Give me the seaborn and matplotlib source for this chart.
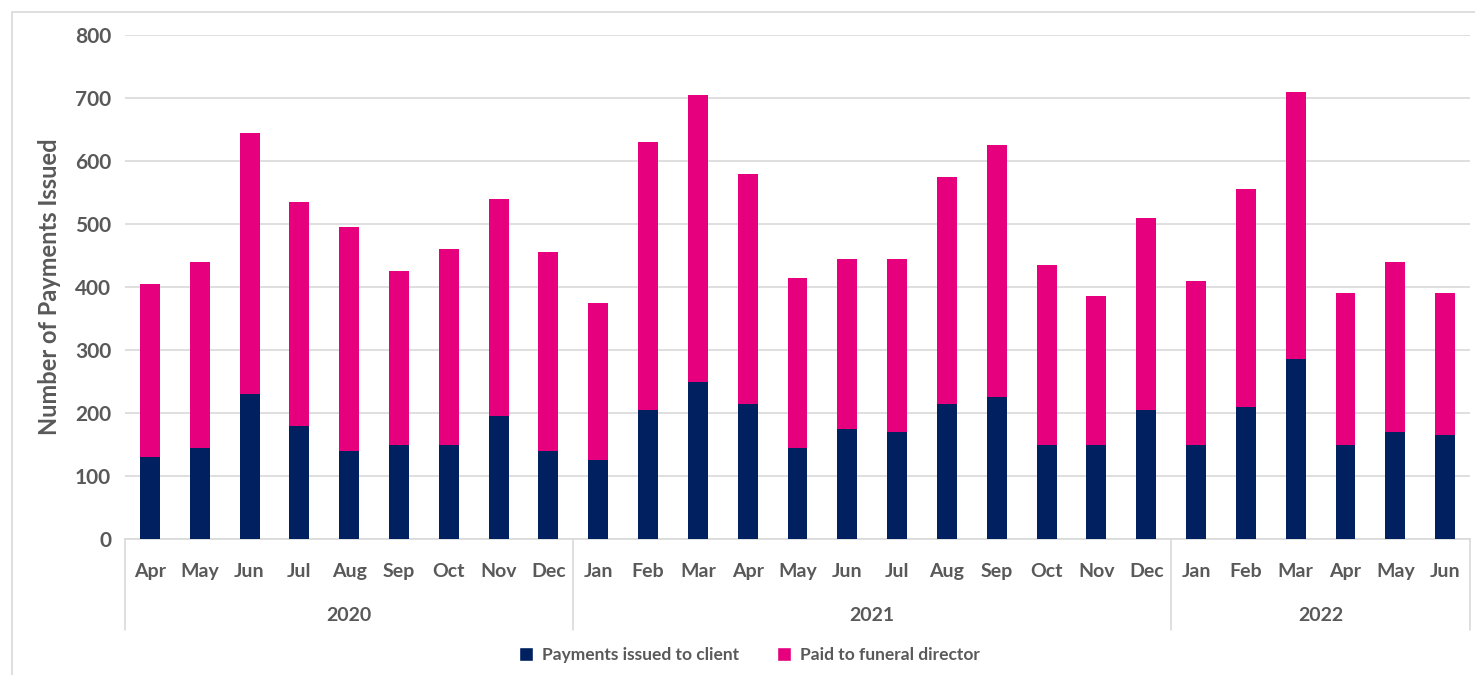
import matplotlib.pyplot as plt
import matplotlib.transforms as mtransforms
from matplotlib.patches import Patch, Rectangle
import seaborn as sns
import pandas as pd

months_2020 = ['Apr', 'May', 'Jun', 'Jul', 'Aug', 'Sep', 'Oct', 'Nov', 'Dec']
months_2021 = ['Jan', 'Feb', 'Mar', 'Apr', 'May', 'Jun', 'Jul', 'Aug', 'Sep', 'Oct', 'Nov', 'Dec']
months_2022 = ['Jan', 'Feb', 'Mar', 'Apr', 'May', 'Jun']
years = ['2020', '2021', '2022']

# payments issued to client (bottom segment)
client = [130, 145, 230, 180, 140, 150, 150, 195, 140,
          125, 205, 250, 215, 145, 175, 170, 215, 225, 150, 150, 205,
          150, 210, 285, 150, 170, 165]
# paid to funeral director (top segment)
funeral = [275, 295, 415, 355, 355, 275, 310, 345, 315,
           250, 425, 455, 365, 270, 270, 275, 360, 400, 285, 235, 305,
           260, 345, 425, 240, 270, 225]

NAVY = '#002060'
PINK = '#E6007E'
GREY = '#595959'
LIGHT = '#D9D9D9'

month_groups = [months_2020, months_2021, months_2022]
rows = []
for yr, ms in zip(years, month_groups):
    for m in ms:
        rows.append({'month': m, 'year': yr, 'key': f'{m} {yr}'})
df = pd.DataFrame(rows)
df['client'] = client
df['funeral'] = funeral
df['total'] = df['client'] + df['funeral']
order = list(df['key'])

sns.set_theme(style='white')
plt.rcParams['font.family'] = ['Lato', 'DejaVu Sans']

fig = plt.figure(figsize=(14.75, 6.75), dpi=100, facecolor='white')
ax = fig.add_axes([125 / 1475, 1 - 539 / 675, 1345 / 1475, 504 / 675])

sns.barplot(data=df, x='key', y='total', order=order, color=PINK,
            saturation=1, width=0.4, linewidth=0, ax=ax, zorder=3)
sns.barplot(data=df, x='key', y='client', order=order, color=NAVY,
            saturation=1, width=0.4, linewidth=0, ax=ax, zorder=4)

ax.set_ylim(0, 800)
ax.set_xlim(-0.5, len(order) - 0.5)
ax.set_yticks(range(0, 801, 100))
ax.yaxis.grid(True, color=LIGHT, linewidth=1.2, zorder=0)
ax.set_axisbelow(True)
for s in ['top', 'right', 'left']:
    ax.spines[s].set_visible(False)
ax.spines['bottom'].set_color(LIGHT)
ax.spines['bottom'].set_linewidth(1.2)

ax.set_xticks(range(len(order)))
ax.set_xticklabels(df['month'], fontsize=14, fontweight='bold', color=GREY)
ax.tick_params(axis='x', length=0, pad=17)
ax.tick_params(axis='y', length=0, pad=10, labelsize=15, labelcolor=GREY)
for lab in ax.get_yticklabels():
    lab.set_fontweight('bold')
ax.set_xlabel('')
ax.set_ylabel('Number of Payments Issued', fontsize=17, fontweight='bold',
              color=GREY, labelpad=10)

# year grouping below the month labels
trans = mtransforms.blended_transform_factory(ax.transData, ax.transAxes)
bounds = [-0.5]
for ms in month_groups:
    bounds.append(bounds[-1] + len(ms))
for b in bounds:
    ax.plot([b, b], [0, -0.18], transform=trans, color=LIGHT, lw=1.2, clip_on=False)
for yr, lo, hi in zip(years, bounds[:-1], bounds[1:]):
    ax.text((lo + hi) / 2, -0.152, yr, transform=trans, ha='center', va='center',
            fontsize=14, fontweight='bold', color=GREY)

handles = [Patch(facecolor=NAVY, label='Payments issued to client'),
           Patch(facecolor=PINK, label='Paid to funeral director')]
leg = fig.legend(handles=handles, loc='center', ncol=2, frameon=False,
                 bbox_to_anchor=(0.508, 1 - 655 / 675),
                 prop={'size': 12.5, 'weight': 'bold'},
                 handlelength=0.8, handleheight=0.8, columnspacing=2.2,
                 handletextpad=0.5)
for t in leg.get_texts():
    t.set_color(GREY)

fig.patches.append(Rectangle((12 / 1475, -0.01), 1.0, 1 - 12 / 675 + 0.01,
                             transform=fig.transFigure, fill=False,
                             edgecolor=LIGHT, linewidth=1.2))

fig.savefig('out.png', dpi=100, facecolor='white')
